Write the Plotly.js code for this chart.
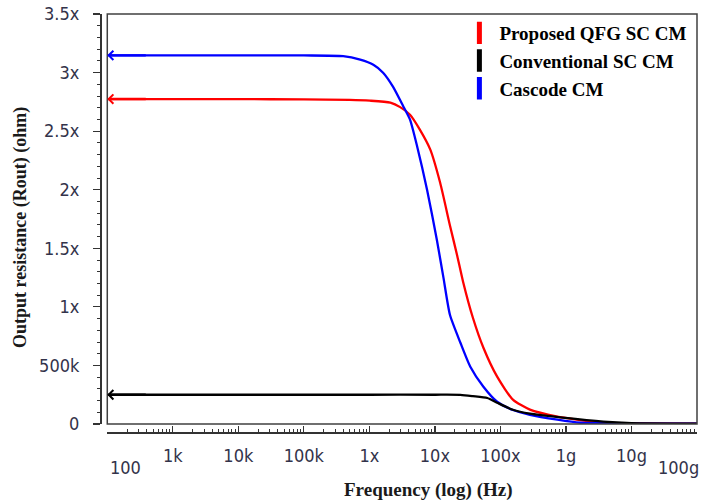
<!DOCTYPE html>
<html>
<head>
<meta charset="utf-8">
<script src="https://cdn.plot.ly/plotly-3.0.1.min.js"></script>
<style>html,body{margin:0;padding:0;background:#fff;}#chart{width:702px;height:501px;}</style>
</head>
<body>
<div id="chart"></div>
<script>
// ---- data (frequency in Hz, resistance in ohm) ----
const seriesNames = ["Proposed QFG SC CM", "Conventional SC CM", "Cascode CM"];
const seriesColors = ["#ff0000", "#000000", "#0000ff"];

const qfgFreq = [1e2, 1e3, 1e4, 1e5, 5.0e5, 1.02e6, 2.09e6, 2.95e6, 4.17e6, 5.89e6, 8.51e6, 1.20e7, 1.70e7, 2.19e7, 2.69e7, 3.80e7, 5.50e7, 8.91e7, 1.55e8, 2.82e8, 7.41e8, 1.48e9, 3.31e9, 1e10, 1e11];
const qfgRout = [2.774e6, 2.774e6, 2.773e6, 2.771e6, 2.767e6, 2.760e6, 2.743e6, 2.705e6, 2.640e6, 2.513e6, 2.342e6, 2.061e6, 1.693e6, 1.437e6, 1.215e6, 0.907e6, 0.651e6, 0.404e6, 0.208e6, 0.123e6, 0.063e6, 0.037e6, 0.011e6, 0.005e6, 0.003e6];

const convFreq = [1e2, 1e4, 1e6, 1e7, 2.45e7, 3.80e7, 6.31e7, 8.91e7, 1.55e8, 2.82e8, 8.91e8, 3.72e9, 1e10, 1e11];
const convRout = [0.250e6, 0.250e6, 0.250e6, 0.250e6, 0.249e6, 0.238e6, 0.222e6, 0.182e6, 0.122e6, 0.088e6, 0.054e6, 0.020e6, 0.008e6, 0.003e6];

const cascFreq = [1e2, 1e3, 1e4, 1e5, 3.98e5, 7.24e5, 1.15e6, 1.62e6, 2.29e6, 3.31e6, 4.17e6, 5.37e6, 7.59e6, 1.07e7, 1.35e7, 1.70e7, 2.45e7, 3.47e7, 5.50e7, 8.91e7, 1.55e8, 2.82e8, 7.41e8, 1.66e9, 1e10, 1e11];
const cascRout = [3.147e6, 3.147e6, 3.147e6, 3.146e6, 3.140e6, 3.110e6, 3.067e6, 2.999e6, 2.880e6, 2.709e6, 2.598e6, 2.367e6, 2.000e6, 1.573e6, 1.250e6, 0.930e6, 0.694e6, 0.489e6, 0.318e6, 0.190e6, 0.120e6, 0.079e6, 0.037e6, 0.011e6, 0.004e6, 0.003e6];

const xTickVals = [1e2, 1e3, 1e4, 1e5, 1e6, 1e7, 1e8, 1e9, 1e10, 1e11];
const xTickText = ["", "1k", "10k", "100k", "1x", "10x", "100x", "1g", "10g", ""];
const xEdgeLabels = ["100", "100g"];
const yTickVals = [0, 5e5, 1e6, 1.5e6, 2e6, 2.5e6, 3e6, 3.5e6];
const yTickText = ["0", "500k", "1x", "1.5x", "2x", "2.5x", "3x", "3.5x"];

const xTitle = "Frequency (log) (Hz)";
const yTitle = "Output resistance (Rout) (ohm)";

// ---- traces ----
const lineW = 2.3;
const mkLine = (c) => ({color: c, width: lineW, shape: "spline", smoothing: 0.6});
const traces = [
  {x: qfgFreq, y: qfgRout, mode: "lines", line: mkLine(seriesColors[0]), showlegend: false, hoverinfo: "skip"},
  {x: cascFreq, y: cascRout, mode: "lines", line: mkLine(seriesColors[2]), showlegend: false, hoverinfo: "skip"},
  {x: convFreq, y: convRout, mode: "lines", line: mkLine(seriesColors[1]), showlegend: false, hoverinfo: "skip"}
];
// legend entries (vertical bar swatches)
seriesNames.forEach((n, i) => {
  traces.push({x: [null], y: [null], mode: "markers", name: n,
    marker: {symbol: "line-ns", size: 16, color: seriesColors[i], line: {color: seriesColors[i], width: 5}}, showlegend: true});
});

const tickFont = {family: "Liberation Sans Narrow, DejaVu Sans Condensed, Arial Narrow, sans-serif", size: 18, color: "#33334a"};
const serifBold = (s) => ({family: "Liberation Serif, Times New Roman, serif", size: s, color: "#1a1a1a"});

// arrows pointing at the left edge for each series
const startVals = [qfgRout[0], convRout[0], cascRout[0]];
const annotations = startVals.map((v, i) => ({
  x: Math.log10(qfgFreq[0]), y: v, xref: "x", yref: "y", text: "",
  showarrow: true, arrowhead: 4, arrowsize: 0.75, arrowwidth: 2.4,
  arrowcolor: seriesColors[i], ax: 40, ay: 0, standoff: 0
}));
annotations.push(
  {x: Math.log10(xTickVals[0]), y: 0, xref: "x", yref: "paper", text: xEdgeLabels[0], showarrow: false,
   xanchor: "left", yanchor: "middle", xshift: 1, yshift: -35, font: tickFont},
  {x: Math.log10(xTickVals[xTickVals.length - 1]), y: 0, xref: "x", yref: "paper", text: xEdgeLabels[1], showarrow: false,
   xanchor: "right", yanchor: "middle", xshift: 4, yshift: -35, font: tickFont},
  {x: 0.551, y: 0, xref: "paper", yref: "paper", text: "<b>" + xTitle + "</b>", showarrow: false,
   xanchor: "center", yanchor: "middle", yshift: -58, font: serifBold(19)},
  {x: -0.134, y: 0.488, xref: "paper", yref: "paper", text: "<b>" + yTitle + "</b>", showarrow: false,
   textangle: -90, xanchor: "center", yanchor: "middle", font: serifBold(18)}
);

const layout = {
  width: 702, height: 501,
  margin: {l: 100, r: 5, t: 14, b: 69, pad: 0},
  paper_bgcolor: "#ffffff", plot_bgcolor: "#ffffff",
  showlegend: true,
  legend: {x: 0.602, xanchor: "left", y: 1.0, yanchor: "top", bgcolor: "rgba(0,0,0,0)",
    font: {family: "Liberation Serif, Times New Roman, serif", size: 19, color: "#000000", weight: "bold"},
    tracegroupgap: 0, itemwidth: 30},
  xaxis: {
    type: "log", range: [2, 11], domain: [0.0122, 1], anchor: "free", position: 0,
    showgrid: false, zeroline: false, showline: true, linecolor: "#333333", linewidth: 1.5,
    ticks: "inside", ticklen: 6, tickwidth: 1.2, tickcolor: "#333333",
    tickmode: "array", tickvals: xTickVals, ticktext: xTickText, tickfont: tickFont,
    ticklabelstandoff: 7,
    minor: {ticks: "inside", ticklen: 3, tickwidth: 1, tickcolor: "#333333", dtick: "D1", showgrid: false}
  },
  yaxis: {
    range: [0, 3.5e6], domain: [0.0191, 1], anchor: "free", position: 0,
    showgrid: false, zeroline: false, showline: true, linecolor: "#333333", linewidth: 1.5,
    ticks: "outside", ticklen: 7, tickwidth: 1.2, tickcolor: "#333333",
    tickmode: "array", tickvals: yTickVals, ticktext: yTickText, tickfont: tickFont,
    ticklabelstandoff: 10,
    minor: {ticks: "outside", ticklen: 3, tickwidth: 1, tickcolor: "#333333", dtick: 1e5, showgrid: false}
  },
  shapes: [{type: "rect", xref: "x domain", yref: "y domain", x0: 0, x1: 1, y0: 0, y1: 1,
    line: {color: "#404040", width: 1.5}, fillcolor: "rgba(0,0,0,0)", layer: "above"}],
  annotations: annotations
};

Plotly.newPlot("chart", traces, layout, {staticPlot: true, displayModeBar: false});
</script>
</body>
</html>
